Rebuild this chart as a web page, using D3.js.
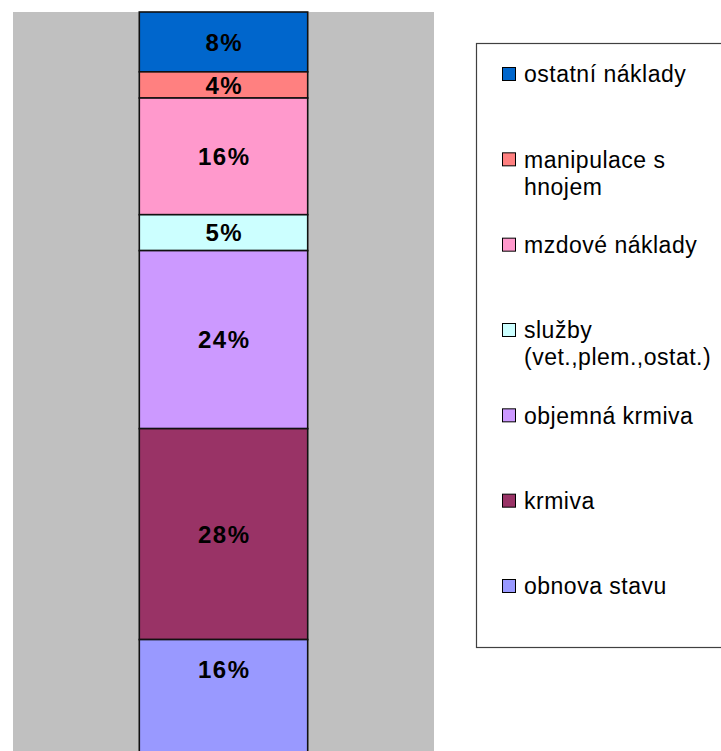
<!DOCTYPE html>
<html>
<head>
<meta charset="utf-8">
<script src="https://cdn.jsdelivr.net/npm/d3@7"></script>
<style>
	body { margin: 0; background: #fff; }
	svg { display: block; font-family: 'Liberation Sans', Arial, sans-serif; }
</style>
</head>
<body>
<div id="chart"></div>
<script>
// stack order, top to bottom
const categories = ['ostatní náklady', 'manipulace s|hnojem', 'mzdové náklady', 'služby|(vet.,plem.,ostat.)', 'objemná krmiva', 'krmiva', 'obnova stavu'];
const values = [8.0, 3.5, 15.6, 4.8, 23.8, 28.2, 16.1];
const valueLabels = ['8%', '4%', '16%', '5%', '24%', '28%', '16%'];
const colors = ['#0066CC', '#FF8080', '#FF99CC', '#CCFFFF', '#CC99FF', '#993366', '#9999FF'];

const options = {
	width: 721,
	height: 751,
	plotLeft: 13,
	plotRight: 434,
	plotTop: 12,
	plotBottom: 760,
	labelBottom: 700, // labels sit in the middle of the part that is shown
	bgColor: '#C0C0C0'
};

const $svg = d3.select('#chart').append('svg')
	.attr('width', options.width)
	.attr('height', options.height);

// gray plot area
$svg.append('rect')
	.attr('x', options.plotLeft)
	.attr('y', options.plotTop)
	.attr('width', options.plotRight - options.plotLeft)
	.attr('height', options.plotBottom - options.plotTop)
	.attr('fill', options.bgColor);

const x = d3.scaleBand()
	.domain(['1'])
	.range([options.plotLeft, options.plotRight])
	.paddingInner(0)
	.paddingOuter(0.75);

const total = d3.sum(values);
const y = d3.scaleLinear()
	.domain([0, total])
	.range([options.plotTop, options.plotBottom]);

// cumulative from top
const stacked = values.map((v, i) => ({
	v: v,
	start: d3.sum(values.slice(0, i)),
	label: valueLabels[i],
	color: colors[i]
}));

const $bars = $svg.append('g');
$bars.selectAll('rect')
	.data(stacked)
	.enter()
	.append('rect')
	.attr('x', x('1'))
	.attr('width', x.bandwidth())
	.attr('y', d => y(d.start))
	.attr('height', d => y(d.start + d.v) - y(d.start))
	.attr('fill', d => d.color)
	.attr('stroke', '#111')
	.attr('stroke-width', 1.6);

const lblSpacing = 1.5;
$bars.selectAll('text')
	.data(stacked)
	.enter()
	.append('text')
	.attr('x', x('1') + x.bandwidth() / 2 + lblSpacing / 2)
	.attr('y', d => (y(d.start) + Math.min(y(d.start + d.v), options.labelBottom)) / 2)
	.attr('dy', '0.36em')
	.attr('text-anchor', 'middle')
	.attr('font-size', 24)
	.attr('font-weight', 'bold')
	.attr('letter-spacing', lblSpacing)
	.attr('fill', '#000')
	.text(d => d.label);

// legend
const legend = { x: 476.5, y: 43.5, w: 260, h: 604 };
$svg.append('rect')
	.attr('x', legend.x)
	.attr('y', legend.y)
	.attr('width', legend.w)
	.attr('height', legend.h)
	.attr('fill', '#fff')
	.attr('stroke', '#404040')
	.attr('stroke-width', 1.2);

const ly = d3.scaleLinear().domain([0, categories.length - 1]).range([74, 586]);
const $items = $svg.append('g').selectAll('g')
	.data(categories)
	.enter()
	.append('g')
	.attr('transform', (d, i) => `translate(502,${ly(i)})`);

$items.append('rect')
	.attr('x', 0.5)
	.attr('y', -6.5)
	.attr('width', 13)
	.attr('height', 13)
	.attr('fill', (d, i) => colors[i])
	.attr('stroke', '#000')
	.attr('stroke-width', 1);

$items.append('text')
	.attr('font-size', 23)
	.attr('letter-spacing', 0.5)
	.attr('fill', '#000')
	.selectAll('tspan')
	.data(d => d.split('|'))
	.enter()
	.append('tspan')
	.attr('x', 22)
	.attr('y', (d, i) => i * 27)
	.attr('dy', '0.36em')
	.text(d => d);
</script>
</body>
</html>
